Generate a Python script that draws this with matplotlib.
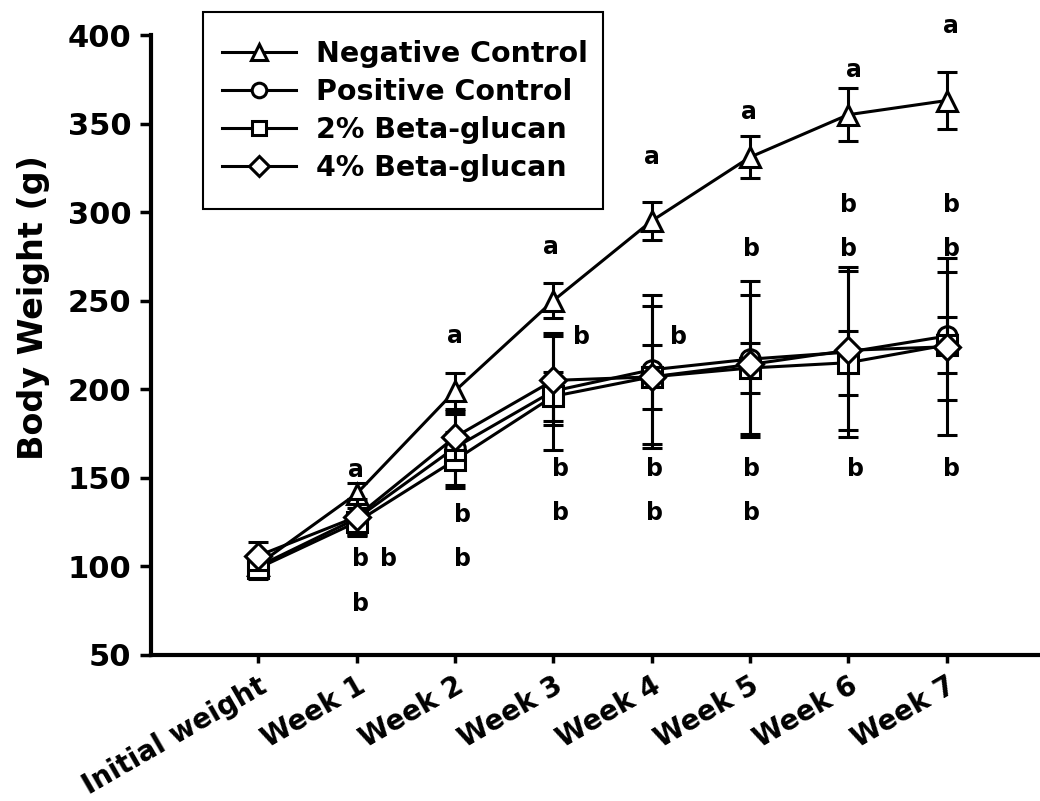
# body weight over 7 weeks, four diet groups (mean +/- SD)

import matplotlib
matplotlib.use('Agg')
import matplotlib.pyplot as plt
from matplotlib.patches import Rectangle

plt.rcParams['font.family'] = ['DejaVu Sans']
plt.rcParams['font.weight'] = 'bold'

weeks = ['Initial weight', 'Week 1', 'Week 2', 'Week 3',
         'Week 4', 'Week 5', 'Week 6', 'Week 7']

neg = [101, 141, 199, 250, 295, 331, 355, 363]
neg_err = [5, 6, 10, 10, 11, 12, 15, 16]
pos = [100, 127, 167, 199, 211, 217, 221, 230]
pos_err = [6, 8, 21, 33, 42, 44, 48, 36]
bg2 = [99, 125, 160, 196, 207, 212, 215, 225]
bg2_err = [6, 8, 16, 14, 18, 14, 18, 16]
bg4 = [106, 128, 173, 205, 207, 214, 222, 224]
bg4_err = [8, 10, 13, 25, 40, 39, 45, 50]

# significance letters (x in category units, y = baseline in g)
let_x = [0.99, 1.04, 1.33, 1.04,
         2.0, 2.08, 2.08,
         2.98, 3.29, 3.07, 3.07,
         4.0, 4.27, 4.03, 4.03,
         4.99, 5.02, 5.02, 5.02,
         6.06, 6.0, 6.0, 6.07,
         7.04, 7.05, 7.05, 7.05]
let_y = [150.7, 100.5, 100.5, 75,
         226, 125, 100.5,
         276.3, 225.6, 151.3, 126,
         327, 225.6, 151.3, 126,
         352.8, 275.5, 151.3, 126,
         376.5, 300, 275.5, 151.3,
         401, 300, 275.5, 151.3]
let_txt = ['a', 'b', 'b', 'b',
           'a', 'b', 'b',
           'a', 'b', 'b', 'b',
           'a', 'b', 'b', 'b',
           'a', 'b', 'b', 'b',
           'a', 'b', 'b', 'b',
           'a', 'b', 'b', 'b']

fig = plt.figure(figsize=(10.4, 8.01), dpi=100)
ax = fig.add_axes([0.1452, 0.1823, 0.8548, 0.774])

x = list(range(len(weeks)))
series = [
    (neg, neg_err, '^', 15, 'Negative Control'),
    (pos, pos_err, 'o', 14, 'Positive Control'),
    (bg2, bg2_err, 's', 14, '2% Beta-glucan'),
    (bg4, bg4_err, 'D', 13, '4% Beta-glucan'),
]
for i, (y, err, mk, ms, name) in enumerate(series):
    ax.errorbar(x, y, yerr=err, color='black', lw=2.2, marker=mk, ms=ms,
                mfc='white', mec='black', mew=2.2, capsize=7, capthick=2.2,
                elinewidth=2.2, label=name, zorder=3 + i)

for tx, ty, t in zip(let_x, let_y, let_txt):
    ax.text(tx, ty, t, ha='center', va='baseline', fontsize=17,
            fontweight='bold')

ax.set_xlim(-1.09, 7.95)
ax.set_ylim(50, 400)
ax.set_yticks(range(50, 401, 50))
ax.set_xticks(x)
ax.set_xticklabels(weeks, rotation=30, ha='right', va='top',
                   rotation_mode='anchor')

ax.spines['top'].set_visible(False)
ax.spines['right'].set_visible(False)
ax.spines['left'].set_linewidth(3)
ax.spines['bottom'].set_linewidth(3)
ax.tick_params(axis='y', direction='out', length=8, width=2.5,
               labelsize=22, pad=6)
ax.tick_params(axis='x', direction='out', length=6, width=2.5,
               labelsize=20, pad=6)

ax.set_ylabel('Body Weight (g)', fontsize=24, fontweight='bold')
ax.yaxis.set_label_coords(-0.114, 0.561)

# legend without its own frame, box drawn separately to match the original
handles, labels = ax.get_legend_handles_labels()
handles = [h[0] for h in handles]
leg = ax.legend(handles, labels, loc='upper left',
                bbox_to_anchor=(199 / 1040, 1 - 17 / 801),
                bbox_transform=fig.transFigure, fontsize=20.5,
                handlelength=2.6, handletextpad=0.7, labelspacing=0.35,
                borderpad=0.3, frameon=False, markerscale=0.75)
fig.patches.append(Rectangle((203 / 1040, 1 - 209 / 801), 400 / 1040,
                             197 / 801, transform=fig.transFigure,
                             fill=False, edgecolor='black', lw=1.5))

fig.savefig('out.png', dpi=100)
